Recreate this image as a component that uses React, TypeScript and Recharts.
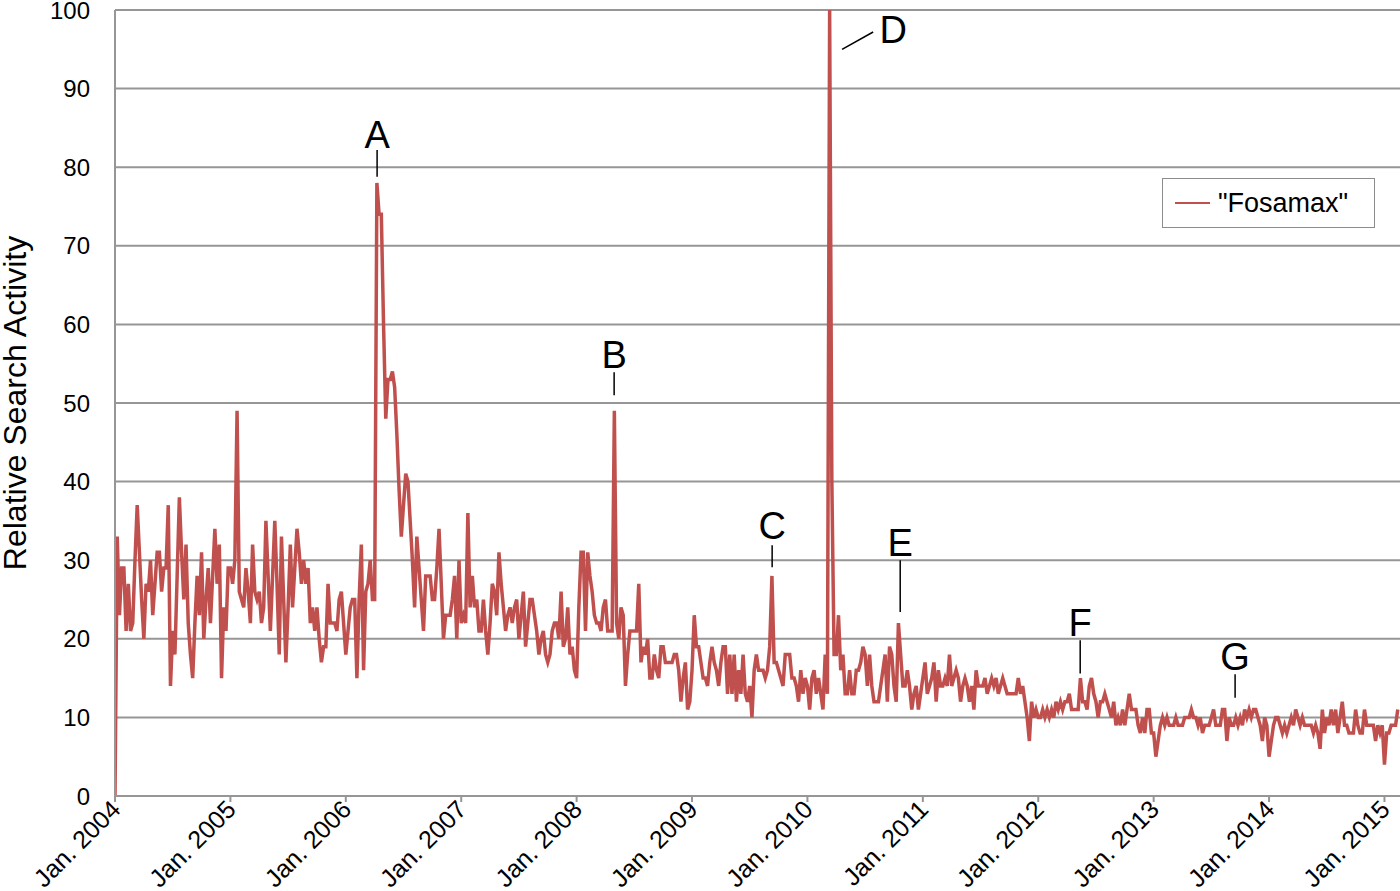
import React from 'react';
import {
  LineChart,
  Line,
  XAxis,
  YAxis,
  CartesianGrid,
  Legend,
  ReferenceLine,
  ReferenceDot,
  Label,
} from 'recharts';

// Weekly relative search activity, one array per 52-week block
const w2004 = [0,33,23,29,29,21,27,21,22,30,37,31,25,20,27,26,30,23,27,31,31,26,29,29,37,14,21,18,28,38,31,25,32,22,18,15,22,28,23,31,20,25,29,22,28,34,27,32,15,24,21,29];
const w2005 = [29,27,30,49,26,25,24,29,26,22,32,26,25,26,22,24,35,28,21,28,35,27,18,33,25,17,24,32,24,29,34,31,27,30,27,29,22,24,21,24,20,17,19,19,27,22,22,22,21,25,26,22];
const w2006 = [18,21,24,25,25,15,25,32,16,26,27,30,25,25,78,74,74,60,48,53,53,54,52,46,39,33,37,41,40,35,30,24,33,29,25,21,28,28,28,25,25,29,34,27,20,23,23,23,25,28,20,30];
const w2007 = [22,23,22,36,24,28,24,25,21,21,25,21,18,22,27,26,23,31,27,24,21,23,24,22,24,25,20,23,26,19,22,25,25,23,21,18,20,21,18,17,18,21,22,22,20,26,19,20,24,18,19,16];
const w2008 = [15,24,31,31,21,31,28,26,23,22,22,21,24,25,21,21,21,49,22,20,24,23,14,18,21,21,21,21,27,17,19,18,20,15,15,18,16,15,19,19,17,17,17,17,18,18,16,12,15,17,11,12];
const w2009 = [16,23,19,19,17,15,15,14,17,19,17,16,14,17,19,19,13,18,13,18,12,16,13,18,13,12,14,10,16,18,16,16,16,15,16,19,28,17,17,16,15,14,18,18,18,15,15,14,12,16,13,15];
const w2010 = [14,11,15,16,13,15,13,11,18,13,100,40,18,18,23,16,18,13,13,16,13,13,16,16,17,19,18,14,18,14,12,12,12,14,16,18,12,19,18,14,12,22,18,14,14,16,14,11,13,14,11,13];
const w2011 = [15,17,13,14,15,17,12,16,14,14,15,14,18,14,15,16,15,12,14,15,14,12,14,11,16,14,14,14,15,13,14,15,14,15,13,14,15,14,13,13,13,13,13,15,13,14,12,10,7,12,10,11];
const w2012 = [10,10,11,10,11,10,11,10,12,11,12,11,12,12,13,11,11,11,11,15,12,12,11,14,15,13,12,10,12,12,13,12,11,10,12,9,10,9,11,9,11,13,11,11,11,9,8,10,8,11,11,8];
const w2013 = [8,5,7,9,10,9,10,9,9,9,10,9,9,9,10,10,10,11,10,10,9,10,8,9,9,9,10,11,9,9,9,11,11,7,10,9,9,10,9,10,9,11,10,11,10,11,11,10,9,7,10,9];
const w2014 = [5,7,9,10,10,9,8,9,8,9,10,9,11,10,9,10,9,9,9,9,8,9,8,6,11,8,10,9,11,9,11,8,10,12,9,9,8,8,8,11,9,8,8,11,9,9,9,9,7,9,8,9];
const w2015 = [4,8,8,9,9,9,11];

const VALUES = [
  ...w2004, ...w2005, ...w2006, ...w2007, ...w2008, ...w2009,
  ...w2010, ...w2011, ...w2012, ...w2013, ...w2014, ...w2015,
];

// Category ticks every 52 weeks
const YEAR_TICKS = [0, 52, 104, 156, 208, 260, 312, 364, 416, 468, 520, 572];
const YEAR_LABELS = [
  'Jan. 2004', 'Jan. 2005', 'Jan. 2006', 'Jan. 2007', 'Jan. 2008', 'Jan. 2009',
  'Jan. 2010', 'Jan. 2011', 'Jan. 2012', 'Jan. 2013', 'Jan. 2014', 'Jan. 2015',
];
const Y_TICKS = [0, 10, 20, 30, 40, 50, 60, 70, 80, 90, 100];

// Event annotations (week index, tick line from/to value, letter value)
const ANNOT_LABELS = ['A', 'B', 'C', 'E', 'F', 'G'];
const ANNOT_WEEK = [118.1, 224.9, 296.1, 353.8, 434.9, 504.7];
const ANNOT_LINE_LOW = [78.8, 51.0, 29.1, 23.4, 15.6, 12.5];
const ANNOT_LINE_HIGH = [82.2, 53.9, 31.9, 30.0, 19.8, 15.5];
const ANNOT_TEXT_Y = [84.2, 56.2, 34.4, 32.2, 22.1, 17.7];
const D_LINE = [{ x: 327.6, y: 95.0 }, { x: 341.6, y: 97.2 }];
const D_TEXT = { x: 350.6, y: 97.5 };

const SERIES_NAME = '"Fosamax"';
const RED = '#C0504D';
const GRID = '#969696';
const FONT = '"Liberation Sans", Arial, sans-serif';

const data = VALUES.map((v, i) => ({ w: i, v }));

const XTick = (props: any) => {
  const { x, y, index } = props;
  const ax = x + 7;
  const ay = y + 7;
  return (
    <text
      x={ax}
      y={ay}
      transform={`rotate(-45 ${ax} ${ay})`}
      textAnchor="end"
      fontSize={25}
      fontFamily={FONT}
      fill="#000"
    >
      {YEAR_LABELS[index]}
    </text>
  );
};

const YTitle = (props: any) => {
  const vb = props.viewBox || { x: 0, y: 10, width: 115, height: 786 };
  const cx = vb.x + 26;
  const cy = vb.y + vb.height / 2;
  return (
    <text
      x={cx}
      y={cy}
      transform={`rotate(-90 ${cx} ${cy})`}
      textAnchor="middle"
      fontSize={32}
      fontFamily={FONT}
      fill="#000"
    >
      Relative Search Activity
    </text>
  );
};

const renderLegend = () => (
  <div
    style={{
      width: 213,
      height: 50,
      border: '1px solid #8c8c8c',
      boxSizing: 'border-box',
      background: '#fff',
      display: 'flex',
      alignItems: 'center',
      fontFamily: FONT,
    }}
  >
    <svg width={55} height={10} style={{ display: 'block' }}>
      <line x1={12} x2={47} y1={5} y2={5} stroke={RED} strokeWidth={2} />
    </svg>
    <span style={{ fontSize: 27, color: '#000', whiteSpace: 'nowrap' }}>{SERIES_NAME}</span>
  </div>
);

export default function App() {
  return (
    <div style={{ position: 'absolute', left: 0, top: 0, background: '#fff' }}>
      <LineChart
        width={1400}
        height={891}
        data={data}
        margin={{ top: 10, right: 0, bottom: 0, left: 0 }}
      >
        <CartesianGrid horizontal vertical={false} stroke={GRID} strokeWidth={2} />
        <XAxis
          dataKey="w"
          type="number"
          domain={[0, 579]}
          ticks={YEAR_TICKS}
          interval={0}
          height={95}
          tick={<XTick />}
          tickSize={6}
          tickMargin={2}
          tickLine={{ stroke: GRID, strokeWidth: 2 }}
          axisLine={{ stroke: GRID, strokeWidth: 2 }}
          allowDataOverflow
        />
        <YAxis
          type="number"
          domain={[0, 100]}
          ticks={Y_TICKS}
          interval={0}
          width={115}
          tickLine={false}
          tickSize={6}
          tickMargin={19}
          axisLine={{ stroke: GRID, strokeWidth: 2 }}
          tick={{ fontSize: 24, fill: '#000', fontFamily: FONT }}
        >
          <Label content={<YTitle />} />
        </YAxis>
        <Legend
          layout="horizontal"
          verticalAlign="middle"
          align="center"
          wrapperStyle={{ left: 1162, top: 178, width: 213, height: 50 }}
          content={renderLegend}
        />
        <Line
          type="linear"
          dataKey="v"
          name={SERIES_NAME}
          stroke={RED}
          strokeWidth={3.5}
          dot={false}
          activeDot={false}
          isAnimationActive={false}
        />
        {ANNOT_LABELS.map((lab, k) => (
          <ReferenceLine
            key={`l${lab}`}
            segment={[
              { x: ANNOT_WEEK[k], y: ANNOT_LINE_LOW[k] },
              { x: ANNOT_WEEK[k], y: ANNOT_LINE_HIGH[k] },
            ]}
            stroke="#000"
            strokeWidth={1.5}
          />
        ))}
        {ANNOT_LABELS.map((lab, k) => (
          <ReferenceDot
            key={`t${lab}`}
            x={ANNOT_WEEK[k]}
            y={ANNOT_TEXT_Y[k]}
            r={0}
            fill="none"
            stroke="none"
            label={{ value: lab, position: 'center', fontSize: 38, fill: '#000', fontFamily: FONT }}
          />
        ))}
        <ReferenceLine segment={D_LINE} stroke="#000" strokeWidth={1.5} />
        <ReferenceDot
          x={D_TEXT.x}
          y={D_TEXT.y}
          r={0}
          fill="none"
          stroke="none"
          label={{ value: 'D', position: 'center', fontSize: 38, fill: '#000', fontFamily: FONT }}
        />
      </LineChart>
    </div>
  );
}
